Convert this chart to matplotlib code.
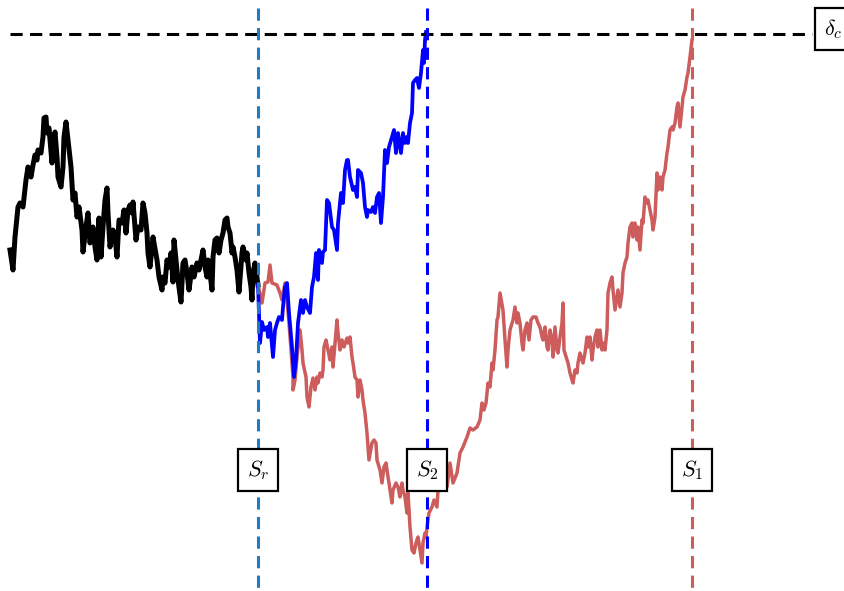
import matplotlib.pyplot as plt

plt.rcParams['mathtext.fontset'] = 'cm'

# values (x = scale S, y = delta; y grows downward in picture units)
black_x = [10, 13, 15, 18, 20, 23, 26, 28, 31, 33, 35, 37, 38, 41, 43, 44, 46, 47, 49, 52,
           53, 55, 57, 58, 61, 63, 64, 66, 68, 71, 73, 75, 77, 79, 82, 83, 86, 88, 90, 93,
           95, 97, 99, 101, 103, 105, 107, 108, 110, 113, 115, 117, 119, 122, 124, 126, 128, 130, 132, 133,
           136, 138, 141, 143, 145, 147, 148, 150, 153, 154, 157, 159, 162, 163, 165, 167, 169, 171, 173, 174,
           176, 178, 181, 183, 185, 187, 189, 192, 194, 197, 199, 201, 203, 205, 207, 208, 210, 212, 213, 215,
           217, 219, 221, 223, 225, 227, 228, 230, 232, 233, 235, 237, 239, 242, 243, 246, 247, 249, 251, 252,
           253, 255, 258]
black_y = [250, 270, 237, 207, 203, 207, 180, 167, 177, 165, 155, 160, 150, 153, 137, 118, 117, 133, 128, 163,
           143, 132, 157, 177, 187, 167, 137, 122, 140, 167, 200, 193, 217, 207, 230, 252, 227, 213, 243, 227,
           247, 260, 218, 257, 227, 200, 188, 213, 247, 230, 237, 257, 220, 223, 210, 233, 210, 205, 213, 202,
           240, 227, 230, 203, 213, 233, 253, 267, 237, 243, 260, 277, 290, 277, 283, 260, 267, 253, 282, 240,
           260, 280, 302, 263, 260, 273, 290, 267, 277, 263, 270, 260, 250, 267, 277, 260, 273, 290, 257, 240,
           238, 253, 240, 233, 220, 218, 227, 233, 253, 247, 257, 270, 292, 253, 247, 260, 253, 273, 287, 300,
           273, 263, 285]

blue_x = [258, 260, 262, 264, 267, 268, 270, 273, 275, 277, 279, 282, 283, 285, 287, 289, 292, 294, 296, 298,
          301, 303, 305, 307, 310, 312, 314, 316, 318, 319, 322, 323, 325, 327, 329, 332, 334, 337, 338, 341,
          343, 345, 347, 348, 350, 353, 355, 357, 358, 361, 363, 365, 367, 368, 371, 373, 375, 377, 379, 381,
          383, 385, 387, 389, 392, 394, 396, 398, 401, 403, 405, 407, 408, 410, 412, 413, 415, 417, 419, 421,
          423, 424, 425, 426]
blue_y = [285, 343, 322, 330, 327, 337, 323, 357, 330, 323, 317, 320, 307, 287, 283, 313, 347, 377, 360, 323,
          300, 313, 300, 307, 313, 287, 277, 253, 280, 250, 263, 252, 250, 200, 203, 227, 230, 250, 223, 193,
          203, 170, 160, 160, 177, 190, 187, 197, 170, 173, 183, 207, 217, 210, 212, 207, 213, 197, 193, 223,
          197, 150, 163, 147, 137, 130, 153, 133, 153, 133, 143, 137, 143, 123, 113, 83, 80, 78, 88, 73,
          50, 63, 40, 32]

red_x = [258, 262, 265, 268, 270, 272, 277, 280, 282, 285, 287, 289, 291, 293, 293, 295, 297, 300, 302, 303,
         306, 307, 309, 311, 313, 315, 317, 318, 320, 322, 323, 324, 326, 328, 330, 332, 333, 335, 337, 338,
         340, 342, 344, 347, 348, 350, 352, 353, 355, 357, 358, 360, 362, 363, 365, 367, 369, 372, 374, 376,
         377, 380, 382, 384, 386, 388, 389, 392, 393, 396, 398, 400, 402, 403, 405, 407, 408, 410, 412, 414,
         416, 418, 420, 422, 423, 425, 426, 427, 429, 432, 434, 437, 438, 440, 442, 445, 447, 450, 453, 457,
         460, 463, 467, 470, 473, 477, 480, 482, 484, 486, 488, 490, 492, 493, 495, 497, 498, 500, 503, 505,
         507, 508, 510, 513, 515, 517, 518, 520, 522, 523, 525, 527, 529, 531, 533, 536, 538, 540, 542, 543,
         545, 547, 548, 550, 552, 553, 555, 557, 558, 560, 562, 563, 564, 567, 568, 570, 572, 573, 575, 577,
         578, 580, 582, 583, 585, 587, 588, 590, 592, 593, 595, 597, 598, 600, 602, 603, 605, 607, 608, 610,
         612, 613, 615, 617, 618, 620, 622, 623, 625, 627, 628, 630, 632, 633, 635, 637, 638, 640, 642, 643,
         645, 647, 648, 650, 652, 653, 655, 657, 658, 660, 662, 663, 665, 667, 668, 670, 672, 673, 675, 677,
         678, 680, 682, 683, 685, 687, 688, 690, 692]
red_y = [285, 303, 283, 282, 265, 283, 285, 293, 300, 283, 300, 323, 350, 377, 390, 380, 357, 330, 350, 363,
         377, 397, 407, 387, 378, 390, 377, 383, 373, 377, 370, 347, 340, 350, 360, 347, 367, 343, 320, 333,
         350, 340, 347, 338, 343, 337, 357, 363, 377, 380, 397, 380, 390, 400, 413, 433, 460, 443, 440, 443,
         460, 470, 483, 467, 463, 477, 483, 503, 490, 483, 487, 497, 483, 490, 497, 513, 493, 527, 550, 553,
         543, 537, 550, 563, 543, 533, 537, 527, 513, 507, 500, 507, 490, 480, 477, 487, 487, 463, 483, 473,
         453, 447, 437, 428, 430, 427, 420, 403, 410, 403, 383, 387, 363, 370, 350, 320, 317, 293, 310, 340,
         367, 350, 330, 320, 307, 323, 313, 323, 343, 350, 330, 323, 340, 320, 317, 317, 323, 327, 337, 340,
         327, 347, 350, 330, 340, 357, 327, 350, 353, 337, 323, 303, 350, 360, 363, 373, 380, 383, 370, 373,
         363, 353, 360, 363, 353, 337, 347, 337, 360, 350, 337, 330, 347, 330, 350, 343, 350, 330, 293, 283,
         277, 290, 310, 297, 290, 307, 293, 273, 263, 257, 243, 227, 223, 237, 223, 240, 227, 250, 220, 223,
         197, 203, 200, 210, 220, 230, 217, 173, 190, 177, 190, 177, 170, 153, 147, 130, 127, 130, 123, 107,
         103, 127, 107, 97, 90, 77, 73, 57, 40]

delta_c = 34
S_r, S_2, S_1 = 258, 427, 692
labels = [r'$S_r$', r'$S_2$', r'$S_1$']

fig = plt.figure(figsize=(8.44, 5.91), dpi=100)
ax = fig.add_axes([0, 0, 1, 1])
ax.set_xlim(0, 844)
ax.set_ylim(591, 0)
ax.axis('off')

ax.plot(black_x, black_y, color='black', lw=3.6, zorder=2)
ax.plot(red_x, red_y, color='indianred', lw=2.5, zorder=3)
ax.plot(blue_x, blue_y, color='blue', lw=2.7, zorder=4)

ax.plot([10, 812], [delta_c, delta_c], color='black', lw=2.2, dashes=(4, 2.4), zorder=5)
vcolors = ['#1f7cc0', 'blue', 'indianred']
for s, c, lab in zip([S_r, S_2, S_1], vcolors, labels):
    ax.plot([s, s], [8, 591], color=c, lw=2.2, dashes=(4, 2.4), zorder=5)
    ax.text(s, 470, lab, fontsize=16, ha='center', va='center', zorder=6,
            bbox=dict(boxstyle='square,pad=0.4', fc='white', ec='black', lw=1.6))

ax.text(833, 29, r'$\delta_c$', fontsize=16, ha='center', va='center', zorder=6,
        bbox=dict(boxstyle='square,pad=0.4', fc='white', ec='black', lw=1.6))

fig.savefig('out.png', dpi=100)
